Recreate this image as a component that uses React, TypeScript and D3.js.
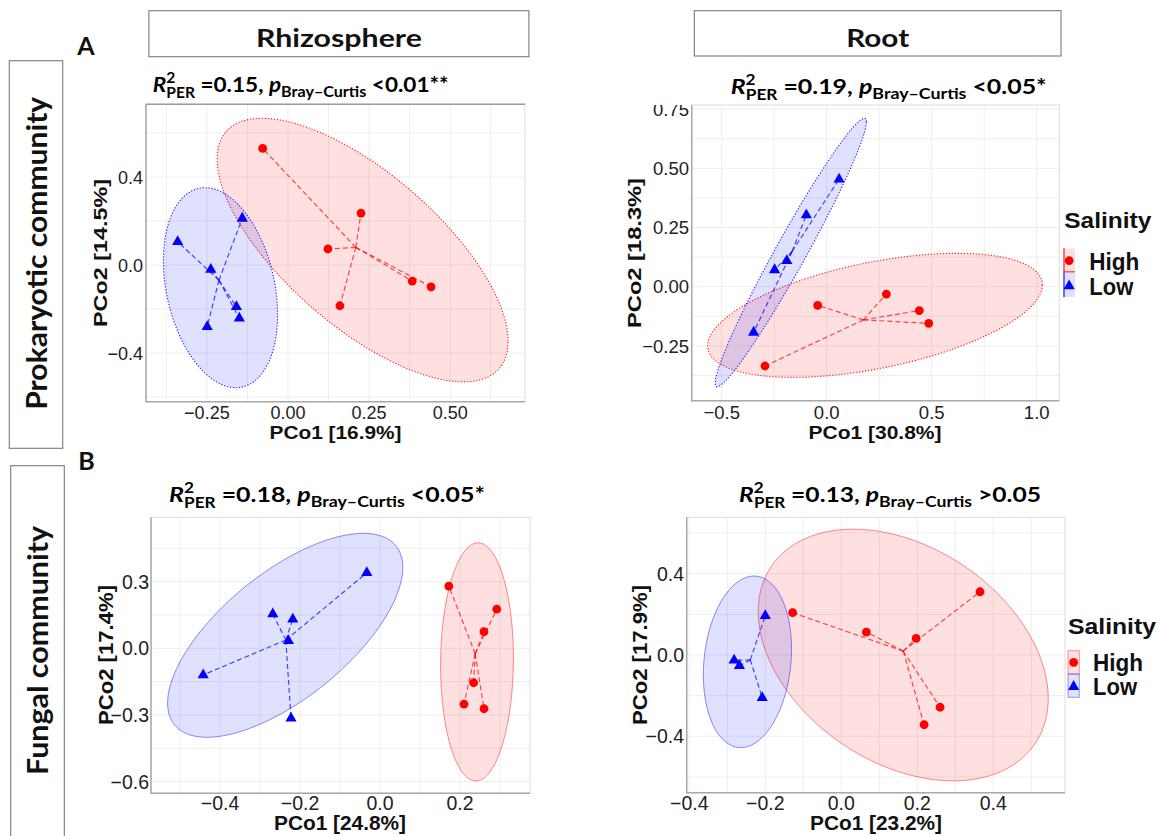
import React from "react";
import * as d3 from "d3";

type Pt = [number, number];

// ---------- DATA ----------
// Prokaryotic community – Rhizosphere
const prokRhizoHigh: Pt[] = [[-0.078, 0.530], [0.225, 0.236], [0.123, 0.073], [0.383, -0.073], [0.441, -0.099], [0.160, -0.185]];
const prokRhizoLow: Pt[] = [[-0.340, 0.106], [-0.141, 0.212], [-0.238, -0.020], [-0.159, -0.190], [-0.150, -0.242], [-0.249, -0.280]];
// Prokaryotic community – Root
const prokRootHigh: Pt[] = [[-0.043, -0.079], [0.284, -0.031], [0.441, -0.101], [0.486, -0.155], [-0.294, -0.335]];
const prokRootLow: Pt[] = [[0.059, 0.454], [-0.097, 0.303], [-0.190, 0.110], [-0.248, 0.071], [-0.348, -0.193]];
// Fungal community – Rhizosphere
const fungRhizoHigh: Pt[] = [[0.172, 0.280], [0.292, 0.176], [0.260, 0.075], [0.234, -0.155], [0.210, -0.251], [0.260, -0.272]];
const fungRhizoLow: Pt[] = [[-0.442, -0.120], [-0.268, 0.154], [-0.218, 0.131], [-0.229, 0.034], [-0.2225, -0.315], [-0.033, 0.340]];
// Fungal community – Root
const fungRootHigh: Pt[] = [[-0.128, 0.208], [0.066, 0.113], [0.197, 0.082], [0.365, 0.311], [0.260, -0.257], [0.218, -0.343]];
const fungRootLow: Pt[] = [[-0.200, 0.193], [-0.282, -0.026], [-0.268, -0.053], [-0.208, -0.210]];

// confidence ellipses: [centre x, centre y, half-width x, half-height y, correlation]
const prokRhizoHighEll = [0.230, 0.068, 0.4485, 0.599, -0.692];
const prokRhizoLowEll = [-0.208, -0.103, 0.176, 0.4545, -0.27];
const prokRootHighEll = [0.230, -0.121, 0.797, 0.262, 0.49];
const prokRootLowEll = [-0.171, 0.1445, 0.36, 0.567, 0.973];
const fungRhizoHighEll = [0.2425, -0.061, 0.091, 0.536, 0.03];
const fungRhizoLowEll = [-0.237, 0.0585, 0.294, 0.459, 0.665];
const fungRootHighEll = [0.163, 0.0, 0.3816, 0.619, -0.345];
const fungRootLowEll = [-0.247, -0.0335, 0.116, 0.422, 0.15];

// ticks
const prokRhizoXTicks = [-0.25, 0, 0.25, 0.5];
const prokRhizoXLabels = ["\u22120.25", "0.00", "0.25", "0.50"];
const prokRhizoYTicks = [-0.4, 0, 0.4];
const prokRhizoYLabels = ["\u22120.4", "0.0", "0.4"];
const prokRootXTicks = [-0.5, 0, 0.5, 1.0];
const prokRootXLabels = ["\u22120.5", "0.0", "0.5", "1.0"];
const prokRootYTicks = [-0.25, 0, 0.25, 0.5, 0.75];
const prokRootYLabels = ["\u22120.25", "0.00", "0.25", "0.50", "0.75"];
const fungRhizoXTicks = [-0.4, -0.2, 0, 0.2];
const fungRhizoXLabels = ["\u22120.4", "\u22120.2", "0.0", "0.2"];
const fungRhizoYTicks = [-0.6, -0.3, 0, 0.3];
const fungRhizoYLabels = ["\u22120.6", "\u22120.3", "0.0", "0.3"];
const fungRootXTicks = [-0.4, -0.2, 0, 0.2, 0.4];
const fungRootXLabels = ["\u22120.4", "\u22120.2", "0.0", "0.2", "0.4"];
const fungRootYTicks = [-0.4, 0, 0.4];
const fungRootYLabels = ["\u22120.4", "0.0", "0.4"];

// texts
const xTitles = ["PCo1 [16.9%]", "PCo1 [30.8%]", "PCo1 [24.8%]", "PCo1 [23.2%]"];
const yTitles = ["PCo2 [14.5%]", "PCo2 [18.3%]", "PCo2 [17.4%]", "PCo2 [17.9%]"];
const r2Values = ["0.15", "0.19", "0.18", "0.13"];
const pValues = ["<0.01**", "<0.05*", "<0.05*", ">0.05"];
const compartments = ["Rhizosphere", "Root"];
const communities = ["Prokaryotic community", "Fungal community"];
const groups = ["High", "Low"];

// ---------- STYLE / LAYOUT ----------
const RED = "#ff0000";
const BLUE = "#0000ff";
const CAL = "Lato, 'Open Sans', sans-serif";
const ARI = "'Liberation Sans', Arial, sans-serif";

interface PanelCfg {
  id: string;
  box: [number, number, number, number];
  xDom: [number, number];
  yDom: [number, number];
  xTicks: number[]; xLabels: string[];
  yTicks: number[]; yLabels: string[];
  high: Pt[]; low: Pt[];
  highEll: number[]; lowEll: number[];
  idx: number;
  dotted: boolean;
  tickFont: number;
  axisFont: number;
  title: { x: number; y: number; w: number };
  xT: { cx: number; y: number; w: number };
  yT: { x: number; cy: number; w: number };
  xTickY: number;
  yTickX: number;
  darkTop?: boolean;
}

const panels: PanelCfg[] = [
  {
    id: "pr", box: [146, 104.3, 525, 401.7], xDom: [-0.4377, 0.7306], yDom: [-0.621, 0.7305],
    xTicks: prokRhizoXTicks, xLabels: prokRhizoXLabels, yTicks: prokRhizoYTicks, yLabels: prokRhizoYLabels,
    high: prokRhizoHigh, low: prokRhizoLow, highEll: prokRhizoHighEll, lowEll: prokRhizoLowEll,
    idx: 0, dotted: true, tickFont: 18, axisFont: 18,
    title: { x: 152.7, y: 92, w: 296 }, xT: { cx: 335.5, y: 438.5, w: 132 }, yT: { x: 107, cy: 253, w: 148 },
    xTickY: 419, yTickX: 143, darkTop: true,
  },
  {
    id: "po", box: [691.7, 105, 1059.3, 400.7], xDom: [-0.6429, 1.1076], yDom: [-0.4816, 0.7676],
    xTicks: prokRootXTicks, xLabels: prokRootXLabels, yTicks: prokRootYTicks, yLabels: prokRootYLabels,
    high: prokRootHigh, low: prokRootLow, highEll: prokRootHighEll, lowEll: prokRootLowEll,
    idx: 1, dotted: true, tickFont: 18.5, axisFont: 18,
    title: { x: 730.7, y: 94, w: 316 }, xT: { cx: 875, y: 438.5, w: 133 }, yT: { x: 641, cy: 253, w: 150 },
    xTickY: 418.5, yTickX: 689,
  },
  {
    id: "fr", box: [151, 517.3, 530, 793.3], xDom: [-0.5725, 0.375], yDom: [-0.6526, 0.5896],
    xTicks: fungRhizoXTicks, xLabels: fungRhizoXLabels, yTicks: fungRhizoYTicks, yLabels: fungRhizoYLabels,
    high: fungRhizoHigh, low: fungRhizoLow, highEll: fungRhizoHighEll, lowEll: fungRhizoLowEll,
    idx: 2, dotted: false, tickFont: 19.5, axisFont: 20,
    title: { x: 169, y: 502, w: 316 }, xT: { cx: 340, y: 830, w: 132 }, yT: { x: 112.5, cy: 655, w: 140 },
    xTickY: 809.5, yTickX: 149,
  },
  {
    id: "fo", box: [686.7, 517.3, 1065, 792.7], xDom: [-0.4068, 0.5887], yDom: [-0.6773, 0.6773],
    xTicks: fungRootXTicks, xLabels: fungRootXLabels, yTicks: fungRootYTicks, yLabels: fungRootYLabels,
    high: fungRootHigh, low: fungRootLow, highEll: fungRootHighEll, lowEll: fungRootLowEll,
    idx: 3, dotted: false, tickFont: 19.5, axisFont: 20,
    title: { x: 739, y: 502, w: 302 }, xT: { cx: 876, y: 830, w: 132 }, yT: { x: 646.5, cy: 655, w: 140 },
    xTickY: 809.5, yTickX: 684,
  },
];

function minorTicks(t: number[], dom: [number, number]) {
  const s = t[1] - t[0];
  const out: number[] = [];
  for (let k = -3; k <= t.length + 3; k++) {
    const v = t[0] + (k - 0.5) * s;
    if (v > dom[0] && v < dom[1]) out.push(v);
  }
  return out;
}

function ellipsePoints(e: number[]): Pt[] {
  const [cx, cy, sx, sy, r] = e;
  return d3.range(0, 181).map((i) => {
    const t = (i / 180) * 2 * Math.PI;
    return [cx + sx * Math.cos(t), cy + sy * (r * Math.cos(t) + Math.sqrt(1 - r * r) * Math.sin(t))] as Pt;
  });
}

function triPath(x: number, y: number) {
  const w = 5.6, h = 9.8;
  return `M${x},${y - (2 * h) / 3}L${x + w},${y + h / 3}L${x - w},${y + h / 3}Z`;
}

function StatTitle({ x, y, w, r2, p }: { x: number; y: number; w: number; r2: string; p: string }) {
  return (
    <text x={x} y={y} textLength={w} lengthAdjust="spacingAndGlyphs" fontFamily={CAL} fontWeight="bold"
      fontSize={21} fill="#000" style={{ whiteSpace: "pre" }}>
      <tspan fontStyle="italic">R</tspan>
      <tspan fontSize={14.5} dy={-9.5}>2</tspan>
      <tspan fontSize={14.5} dx={-8.3} dy={15}>PER</tspan>
      <tspan dy={-5.5}>{" =" + r2 + ", "}</tspan>
      <tspan fontStyle="italic">p</tspan>
      <tspan fontSize={15} dy={5}>{"Bray\u2013Curtis"}</tspan>
      <tspan dy={-5}>{" " + p}</tspan>
    </text>
  );
}

function Panel({ c }: { c: PanelCfg }) {
  const [l, t, r, b] = c.box;
  const xs = d3.scaleLinear().domain(c.xDom).range([l, r]);
  const ys = d3.scaleLinear().domain(c.yDom).range([b, t]);
  const line = d3.line<Pt>().x((d) => xs(d[0])).y((d) => ys(d[1])).curve(d3.curveLinearClosed);
  const xMinor = minorTicks(c.xTicks, c.xDom);
  const yMinor = minorTicks(c.yTicks, c.yDom);
  const groupsData = [
    { pts: c.high, ell: c.highEll, col: RED, key: "h" },
    { pts: c.low, ell: c.lowEll, col: BLUE, key: "l" },
  ];
  const gridCol = "#ececec";
  return (
    <g>
      <defs>
        <clipPath id={`clip-${c.id}`}>
          <rect x={l} y={t} width={r - l} height={b - t} />
        </clipPath>
        <clipPath id={`lab-${c.id}`}>
          <rect x={l - 90} y={t} width={90} height={b - t + 30} />
        </clipPath>
      </defs>
      <rect x={l} y={t} width={r - l} height={b - t} fill="#fff" />
      {[...xMinor, ...c.xTicks].map((v, i) => (
        <line key={`gx${i}`} x1={xs(v)} x2={xs(v)} y1={t} y2={b} stroke={gridCol} strokeWidth={0.9} />
      ))}
      {[...yMinor, ...c.yTicks].map((v, i) => (
        <line key={`gy${i}`} x1={l} x2={r} y1={ys(v)} y2={ys(v)} stroke={gridCol} strokeWidth={0.9} />
      ))}
      <g clipPath={`url(#clip-${c.id})`}>
        {groupsData.map((g) => (
          <path key={`e${g.key}`} d={line(ellipsePoints(g.ell)) || ""} fill={g.col} fillOpacity={0.12}
            stroke={g.col} strokeOpacity={c.dotted ? 0.85 : 0.45} strokeWidth={c.dotted ? 1.1 : 1}
            strokeDasharray={c.dotted ? "1.3 1.7" : undefined} />
        ))}
        {groupsData.map((g) => {
          const mx = d3.mean(g.pts, (d) => d[0]) as number;
          const my = d3.mean(g.pts, (d) => d[1]) as number;
          return g.pts.map((d, i) => (
            <line key={`s${g.key}${i}`} x1={xs(mx)} y1={ys(my)} x2={xs(d[0])} y2={ys(d[1])}
              stroke={g.col} strokeOpacity={0.7} strokeWidth={1.2} strokeDasharray="5 3" />
          ));
        })}
      </g>
      {c.high.map((d, i) => (
        <circle key={`ph${i}`} cx={xs(d[0])} cy={ys(d[1])} r={4.4} fill={RED} />
      ))}
      {c.low.map((d, i) => (
        <path key={`pl${i}`} d={triPath(xs(d[0]), ys(d[1]))} fill={BLUE} />
      ))}
      <rect x={l} y={t} width={r - l} height={b - t} fill="none" stroke="#dcdcdc" strokeWidth={1} />
      <line x1={l} x2={l} y1={t} y2={b + 0.7} stroke="#a9a9a9" strokeWidth={1.5} />
      <line x1={l} x2={r} y1={b} y2={b} stroke="#a9a9a9" strokeWidth={1.5} />
      {c.darkTop && <line x1={l} x2={r} y1={t} y2={t} stroke="#9a9a9a" strokeWidth={1.5} />}
      {c.xTicks.map((v, i) => (
        <text key={`xl${i}`} x={xs(v)} y={c.xTickY} textAnchor="middle" fontFamily={ARI}
          fontSize={c.tickFont} fill="#222">{c.xLabels[i]}</text>
      ))}
      <g clipPath={`url(#lab-${c.id})`}>
        {c.yTicks.map((v, i) => (
          <text key={`yl${i}`} x={c.yTickX} y={ys(v)} dy="0.36em" textAnchor="end" fontFamily={ARI}
            fontSize={c.tickFont} fill="#222">{c.yLabels[i]}</text>
        ))}
      </g>
      <text x={c.xT.cx - c.xT.w / 2} y={c.xT.y} textLength={c.xT.w} lengthAdjust="spacingAndGlyphs"
        fontFamily={ARI} fontWeight="bold" fontSize={c.axisFont} fill="#111">{xTitles[c.idx]}</text>
      <text transform={`translate(${c.yT.x},${c.yT.cy + c.yT.w / 2}) rotate(-90)`} x={0} y={0}
        textLength={c.yT.w} lengthAdjust="spacingAndGlyphs" fontFamily={ARI} fontWeight="bold"
        fontSize={c.axisFont + 1} fill="#111">{yTitles[c.idx]}</text>
      <StatTitle x={c.title.x} y={c.title.y} w={c.title.w} r2={r2Values[c.idx]} p={pValues[c.idx]} />
    </g>
  );
}

interface LegendCfg {
  tx: number; ty: number; tw: number;
  kx: number; kw: number; ky: number[]; kh: number;
  lx: number; ly: number[]; lw: number[];
  full: boolean;
}

const legends: LegendCfg[] = [
  { tx: 1064.3, ty: 227.5, tw: 87, kx: 1063.3, kw: 11.7, ky: [248.3, 272.7], kh: 24.5, lx: 1089.3, ly: [270, 295], lw: [50, 44], full: false },
  { tx: 1068, ty: 634, tw: 88, kx: 1068, kw: 11.3, ky: [650.7, 674], kh: 23.3, lx: 1093, ly: [671, 695], lw: [50, 44], full: true },
];

function Legend({ g }: { g: LegendCfg }) {
  const cols = [RED, BLUE];
  return (
    <g>
      <text x={g.tx} y={g.ty} textLength={g.tw} lengthAdjust="spacingAndGlyphs" fontFamily={ARI}
        fontWeight="bold" fontSize={22} fill="#111">Salinity</text>
      {groups.map((name, i) => {
        const y0 = g.ky[i];
        const cx = g.kx + g.kw / 2;
        const cy = y0 + g.kh / 2;
        return (
          <g key={name}>
            <rect x={g.kx} y={y0} width={g.kw} height={g.kh} fill={cols[i]} fillOpacity={0.12}
              stroke={g.full ? cols[i] : "none"} strokeOpacity={0.4} strokeWidth={1} />
            {!g.full && <line x1={g.kx + 0.7} x2={g.kx + 0.7} y1={y0} y2={y0 + g.kh} stroke={cols[i]} strokeOpacity={0.75} strokeWidth={1.4} />}
            {!g.full && i === 0 && <line x1={g.kx} x2={g.kx + g.kw} y1={y0 + g.kh - 1} y2={y0 + g.kh - 1} stroke={RED} strokeOpacity={0.75} strokeWidth={1.2} />}
            {i === 0 ? <circle cx={cx} cy={cy} r={4.4} fill={RED} /> : <path d={triPath(cx, cy + 1)} fill={BLUE} />}
            <text x={g.lx} y={g.ly[i]} textLength={g.lw[i]} lengthAdjust="spacingAndGlyphs" fontFamily={ARI}
              fontWeight="bold" fontSize={23} fill="#111">{name}</text>
          </g>
        );
      })}
    </g>
  );
}

export default function App() {
  return (
    <svg width={1163} height={836} viewBox="0 0 1163 836"
      style={{ position: "absolute", left: 0, top: 0, background: "#fff" }}>
      <rect x={0} y={0} width={1163} height={836} fill="#fff" />
      <rect x={148.9} y={10.7} width={380} height={46} fill="#fff" stroke="#7a7a7a" strokeWidth={1.1} />
      <text x={338.9 - 83} y={46.5} textLength={166} lengthAdjust="spacingAndGlyphs" fontFamily={CAL}
        fontWeight="bold" fontSize={25} fill="#111">{compartments[0]}</text>
      <rect x={694.3} y={10.7} width={366.7} height={45.3} fill="#fff" stroke="#7a7a7a" strokeWidth={1.1} />
      <text x={877.7 - 31.5} y={46.5} textLength={63} lengthAdjust="spacingAndGlyphs" fontFamily={CAL}
        fontWeight="bold" fontSize={25} fill="#111">{compartments[1]}</text>
      <text x={86} y={55} textAnchor="middle" fontFamily={CAL} fontWeight="bold" fontSize={25} fill="#111">A</text>
      <text x={86.5} y={469.5} textAnchor="middle" fontFamily={CAL} fontWeight="bold" fontSize={25} fill="#111">B</text>
      <rect x={9.3} y={60.7} width={53.4} height={387.6} fill="#fff" stroke="#7a7a7a" strokeWidth={1.1} />
      <text transform={`translate(46.5,${253.3 + 156.5}) rotate(-90)`} textLength={313}
        lengthAdjust="spacingAndGlyphs" fontFamily={CAL} fontWeight="bold" fontSize={28} fill="#111">{communities[0]}</text>
      <rect x={10.7} y={465.7} width={53.6} height={380} fill="#fff" stroke="#7a7a7a" strokeWidth={1.1} />
      <text transform={`translate(48,${650.5 + 124.5}) rotate(-90)`} textLength={249}
        lengthAdjust="spacingAndGlyphs" fontFamily={CAL} fontWeight="bold" fontSize={28} fill="#111">{communities[1]}</text>
      {panels.map((c) => (
        <Panel key={c.id} c={c} />
      ))}
      {legends.map((g, i) => (
        <Legend key={i} g={g} />
      ))}
    </svg>
  );
}
